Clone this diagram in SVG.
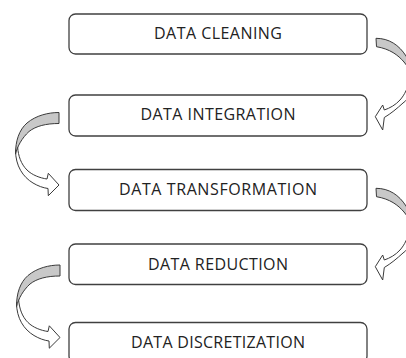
<svg xmlns="http://www.w3.org/2000/svg" xmlns:xlink="http://www.w3.org/1999/xlink" width="406" height="358" viewBox="0 0 406 358">
  <style>
    .box { fill: #ffffff; stroke: #404040; stroke-width: 1.3; }
    .lbl { font-family: "Open Sans", "Noto Sans", "Liberation Sans", sans-serif; font-size: 16px; fill: #222222; text-anchor: middle; }
    .shade { fill: #c8c8c8; stroke: #3a3a3a; stroke-width: 1; stroke-linejoin: round; }
    .body { fill: #ffffff; stroke: #3a3a3a; stroke-width: 1; stroke-linejoin: round; }
  </style>
  <defs>
    <g id="leftArrow">
      <path class="body" d="M15.5,150 C15.5,166 23,177 33,183 C38,186 43,187.8 48,188.5 L48.3,195.7 L59,185 L48.3,173.3 L47,179 C40,178 32,175 27,170 C21,164 18.3,156 17.6,147 Z"/>
      <path class="shade" d="M59,112.5 C48,112.5 36,115.5 27,123 C19,130 15.5,141 15.5,154 C17.5,146 22,138 29,131.5 C36,126 46,123.5 59,123.5 Z"/>
    </g>
    <g id="rightArrow">
      <path class="body" d="M414.5,78 C415,90 410,98 403,103 C397,108.5 391,113.5 384.3,117.5 L382.7,130 L375.3,116.7 L382.7,105 L384.3,110 C390,108 395.5,105 400,100 C404.5,95 408,88 410,78 Z"/>
      <path class="shade" d="M376,38.3 C389,38.3 399,45 406,56 C411,64 414,72 414.5,82 C412,74 408.5,67 404,62 C398,55 390,49 376.5,46.7 Z"/>
    </g>
  </defs>

  <g id="connectors">
    <use xlink:href="#rightArrow" href="#rightArrow"/>
    <use xlink:href="#leftArrow" href="#leftArrow"/>
    <use xlink:href="#rightArrow" href="#rightArrow" transform="translate(0,150)"/>
    <use xlink:href="#leftArrow" href="#leftArrow" transform="translate(1,152.5)"/>
  </g>

  <g id="node-cleaning">
    <rect class="box" x="69" y="14" width="298" height="40" rx="6.5"/>
    <text class="lbl" x="218" y="38.5" textLength="128" lengthAdjust="spacing">DATA CLEANING</text>
  </g>
  <g id="node-integration">
    <rect class="box" x="69" y="95" width="298" height="41" rx="6.5"/>
    <text class="lbl" x="218" y="120" textLength="155" lengthAdjust="spacing">DATA INTEGRATION</text>
  </g>
  <g id="node-transformation">
    <rect class="box" x="69" y="169.5" width="298" height="41" rx="6.5"/>
    <text class="lbl" x="218" y="195" textLength="198" lengthAdjust="spacing">DATA TRANSFORMATION</text>
  </g>
  <g id="node-reduction">
    <rect class="box" x="69" y="244" width="298" height="40.5" rx="6.5"/>
    <text class="lbl" x="218" y="269.5" textLength="140" lengthAdjust="spacing">DATA REDUCTION</text>
  </g>
  <g id="node-discretization">
    <rect class="box" x="69" y="322.5" width="298" height="40" rx="6.5"/>
    <text class="lbl" x="218" y="348" textLength="174" lengthAdjust="spacing">DATA DISCRETIZATION</text>
  </g>
</svg>
